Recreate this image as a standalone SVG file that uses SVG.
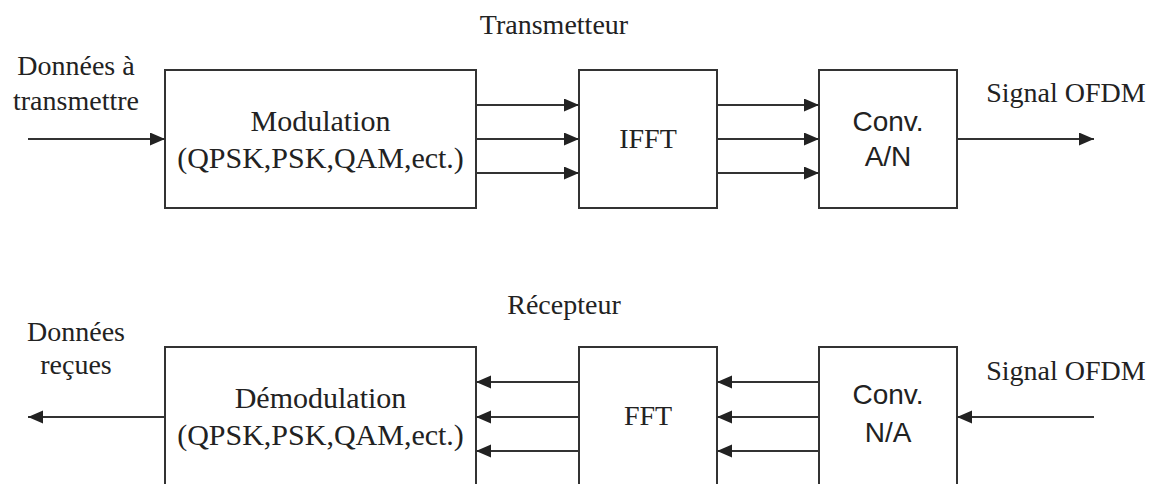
<svg xmlns="http://www.w3.org/2000/svg" width="1160" height="484" viewBox="0 0 1160 484">
<style>
.box{fill:#fff;stroke:#333;stroke-width:2}
.ser{font-family:"Liberation Serif","Times New Roman",serif;font-size:28px;fill:#222;text-anchor:middle}
.big{font-size:30px}
.sans{font-family:"Liberation Sans",Arial,sans-serif;font-size:28px;fill:#222;text-anchor:middle}
.wire{stroke:#333;stroke-width:2;fill:none;marker-end:url(#ah)}
</style>
<defs>
<marker id="ah" markerUnits="userSpaceOnUse" markerWidth="16" markerHeight="14" refX="15" refY="6.5" orient="auto">
<path d="M0,0 L15,6.5 L0,13 z" fill="#222"/>
</marker>
</defs>
<rect width="1160" height="484" fill="#fff"/>
<text class="ser" x="554" y="34">Transmetteur</text>
<text class="ser" x="564" y="314">Récepteur</text>
<g id="in-label"><text class="ser" x="76" y="75">Données à</text><text class="ser" x="76" y="110">transmettre</text></g>
<g id="out-label"><text class="ser" x="1066" y="102">Signal OFDM</text></g>
<g id="modulation"><rect class="box" x="165" y="70" width="311" height="138"/><text class="ser big" x="320.5" y="131">Modulation</text><text class="ser big" x="320.5" y="168">(QPSK,PSK,QAM,ect.)</text></g>
<g id="ifft"><rect class="box" x="579" y="70" width="138" height="138"/><text class="ser" x="648" y="148">IFFT</text></g>
<g id="conv-an"><rect class="box" x="819" y="70" width="138" height="138"/><text class="sans" x="888" y="131">Conv.</text><text class="sans" x="888" y="166">A/N</text></g>
<g id="rx-label"><text class="ser" x="1066" y="380">Signal OFDM</text></g>
<g id="rx-out-label"><text class="ser" x="76" y="341">Données</text><text class="ser" x="76" y="374">reçues</text></g>
<g id="demodulation"><rect class="box" x="165" y="347" width="311" height="140"/><text class="ser big" x="320.5" y="408">Démodulation</text><text class="ser big" x="320.5" y="445">(QPSK,PSK,QAM,ect.)</text></g>
<g id="fft"><rect class="box" x="579" y="347" width="138" height="140"/><text class="ser" x="648" y="425">FFT</text></g>
<g id="conv-na"><rect class="box" x="819" y="347" width="138" height="140"/><text class="sans" x="888" y="404">Conv.</text><text class="sans" x="888" y="442">N/A</text></g>
<g id="connectors">
<line class="wire" x1="28" y1="139" x2="165" y2="139"/>
<line class="wire" x1="476" y1="105" x2="579" y2="105"/>
<line class="wire" x1="476" y1="139" x2="579" y2="139"/>
<line class="wire" x1="476" y1="173" x2="579" y2="173"/>
<line class="wire" x1="717" y1="105" x2="819" y2="105"/>
<line class="wire" x1="717" y1="139" x2="819" y2="139"/>
<line class="wire" x1="717" y1="173" x2="819" y2="173"/>
<line class="wire" x1="957" y1="139" x2="1094" y2="139"/>
<line class="wire" x1="1094" y1="417" x2="957" y2="417"/>
<line class="wire" x1="819" y1="382" x2="717" y2="382"/>
<line class="wire" x1="819" y1="417" x2="717" y2="417"/>
<line class="wire" x1="819" y1="451" x2="717" y2="451"/>
<line class="wire" x1="579" y1="382" x2="476" y2="382"/>
<line class="wire" x1="579" y1="417" x2="476" y2="417"/>
<line class="wire" x1="579" y1="451" x2="476" y2="451"/>
<line class="wire" x1="165" y1="417" x2="28" y2="417"/>
</g>
</svg>
